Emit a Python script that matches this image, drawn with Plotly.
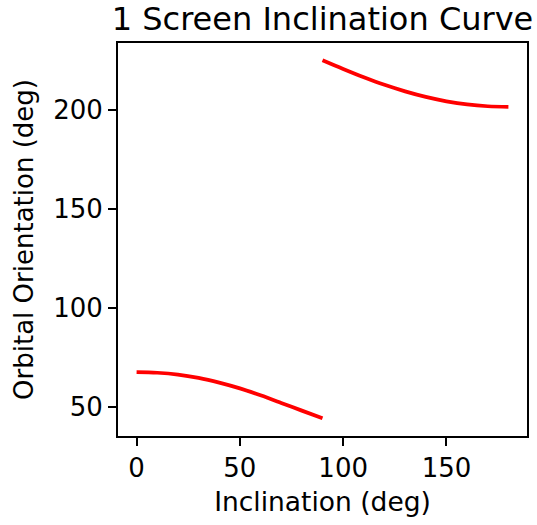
import plotly.graph_objects as go

# Data
incl_low = [0, 10, 20, 30, 40, 50, 60, 70, 80, 90]
orient_low = [67.7, 67.4, 66.5, 64.8, 62.4, 59.5, 56.0, 52.2, 48.3, 44.4]
incl_high = [90, 100, 110, 120, 130, 140, 150, 160, 170, 180]
orient_high = [225.0, 220.6, 216.4, 212.6, 209.3, 206.5, 204.3, 202.7, 201.8, 201.5]

x_ticks = [0, 50, 100, 150]
y_ticks = [50, 100, 150, 200]

FONT = "DejaVu Sans"
LINE = dict(color="#ff0000", width=3.75)

fig = go.Figure()
fig.add_trace(go.Scatter(x=incl_low, y=orient_low, mode="lines", line=dict(**LINE, shape="spline"),
                         showlegend=False, hoverinfo="skip"))
fig.add_trace(go.Scatter(x=incl_high, y=orient_high, mode="lines", line=dict(**LINE, shape="spline"),
                         showlegend=False, hoverinfo="skip"))

axis_common = dict(
    showgrid=False, zeroline=False, showline=True, mirror=True,
    linecolor="black", linewidth=2, ticks="outside", ticklen=8, tickwidth=2,
    tickcolor="black", tickfont=dict(family=FONT, size=26, color="black"),
)

fig.update_layout(
    width=537, height=525,
    margin=dict(l=118, r=8, t=43, b=89),
    paper_bgcolor="white", plot_bgcolor="white",
    font=dict(family=FONT, color="black"),
    title=dict(text="1 Screen Inclination Curve", font=dict(family=FONT, size=32, color="black"),
               x=0.5, xref="paper", xanchor="center", y=1 - 19 / 525, yref="container", yanchor="middle"),
    xaxis=dict(**axis_common, range=[-9, 189], tickvals=x_ticks,
               title=dict(text="Inclination (deg)", font=dict(family=FONT, size=26.5, color="black"), standoff=10)),
    yaxis=dict(**axis_common, range=[35.5, 233.7], tickvals=y_ticks,
               title=dict(text="Orbital Orientation (deg)", font=dict(family=FONT, size=26, color="black"), standoff=12)),
)

fig.write_html("out.html")
